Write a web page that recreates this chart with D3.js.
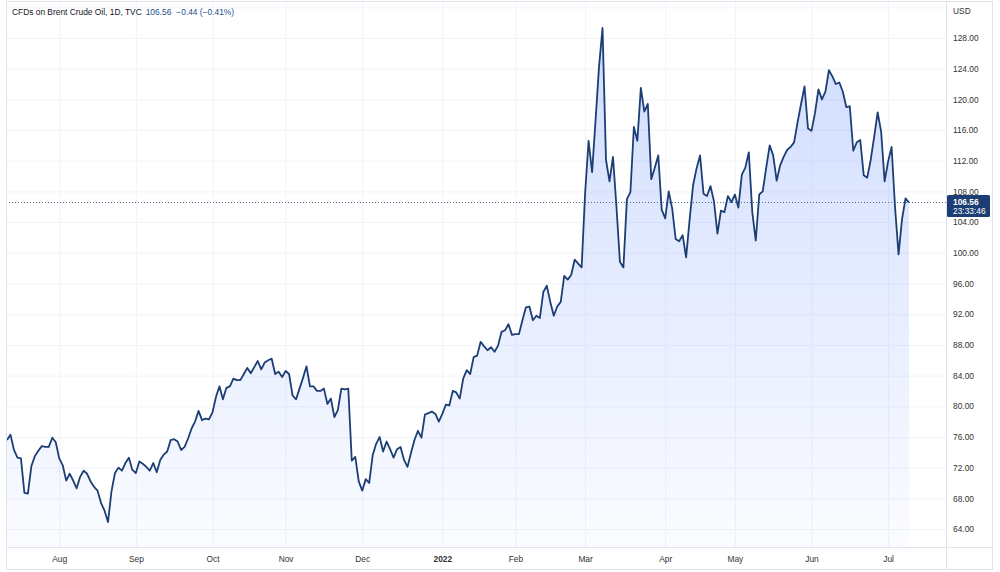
<!DOCTYPE html>
<html>
<head>
<meta charset="utf-8">
<script src="https://cdn.jsdelivr.net/npm/d3@7"></script>
<style>
  body { margin: 0; background: #fff; }
  svg text { font-family: "Liberation Sans", Arial, sans-serif; }
</style>
</head>
<body>
<div id="chart"></div>
<script>
// daily closes, CFDs on Brent Crude Oil (TVC)
var prices = [
  75.6,76.3,74.3,73.3,73.2,68.7,68.6,72.2,73.5,74.2,
  74.8,74.7,74.7,75.9,75.3,73.2,72.3,70.3,71.2,70.3,
  69.3,70.8,71.6,71.2,70.2,69.5,69.0,67.4,66.4,64.9,
  68.9,71.3,72.0,71.6,72.6,73.3,71.7,71.3,72.8,72.5,
  72.1,71.6,72.6,71.4,73.0,73.7,74.1,75.6,75.7,75.4,
  74.3,74.7,75.8,77.1,78.0,79.4,78.2,78.4,78.3,79.2,
  81.2,82.6,80.9,82.4,82.6,83.6,83.4,83.4,84.2,85.0,
  84.3,85.1,85.9,84.8,85.7,86.0,86.2,84.2,84.5,83.8,
  84.6,84.2,81.4,80.9,82.3,83.7,85.2,82.6,82.6,82.0,
  82.0,82.3,80.3,81.0,78.6,79.5,82.3,82.2,82.3,72.9,
  73.4,70.2,69.0,70.5,70.0,73.6,75.1,76.0,74.1,75.4,
  74.4,73.3,74.4,74.7,73.0,72.1,73.9,75.6,76.8,75.9,
  78.9,79.1,79.3,79.0,78.0,79.0,80.2,80.1,82.0,81.8,
  81.0,83.6,84.7,84.2,86.4,86.6,88.4,87.8,87.3,87.7,
  87.1,87.9,89.7,89.9,90.7,89.3,89.4,89.4,91.2,92.9,
  93.0,91.2,91.8,91.5,94.9,95.7,93.6,91.8,93.0,93.6,
  97.0,96.5,97.1,99.1,98.6,98.1,107.8,114.6,110.5,117.3,
  124.3,129.3,112.1,109.3,112.5,106.0,98.8,98.1,107.0,107.9,
  116.4,114.6,121.5,118.4,119.4,109.6,111.1,112.7,105.6,104.5,
  108.0,105.8,101.8,101.5,102.3,99.4,104.3,108.8,111.0,112.7,
  107.7,107.4,108.7,106.7,102.5,105.5,105.3,107.4,106.6,107.6,
  105.9,110.2,111.1,113.1,105.3,101.6,107.6,108.0,111.1,114.0,
  112.7,109.4,111.4,112.5,113.4,113.8,114.4,117.0,119.4,121.7,
  116.2,115.9,118.2,121.3,120.0,121.0,123.8,123.0,122.0,122.2,
  121.0,119.0,119.1,113.3,114.4,114.7,110.1,109.8,112.1,115.1,
  118.3,115.8,109.3,111.9,113.8,105.9,99.8,104.4,107.1,106.56
];
var firstDay = "2021-07-12";
var holidays = ["2022-04-15"];
var priceTicks = d3.range(64, 129, 4);
var gridPrices = d3.range(60, 133, 4);
var title = "CFDs on Brent Crude Oil, 1D, TVC";
var lastPrice = "106.56", change = "\u22120.44 (\u22120.41%)";
var currency = "USD", countdown = "23:33:46";

// one weekday per bar, skipping the holidays
var fmt = d3.timeFormat("%Y-%m-%d");
var dates = [];
var day = d3.timeParse("%Y-%m-%d")(firstDay);
while (dates.length < prices.length) {
  if (day.getDay() != 0 && day.getDay() != 6 && holidays.indexOf(fmt(day)) < 0) dates.push(day);
  day = d3.timeDay.offset(day, 1);
}
var monthStarts = d3.range(1, dates.length).filter(function(i) {
  return dates[i].getMonth() != dates[i - 1].getMonth();
});

var W = 1000, H = 572;
var plot = {left: 6, right: 946, top: 1, bottom: 547};

var svg = d3.select("#chart").append("svg")
  .attr("width", W).attr("height", H);

var x = d3.scaleLinear().domain([0, prices.length - 1]).range([7, 909]);
var y = d3.scaleLinear().domain([64, 128]).range([529, 38]);

var defs = svg.append("defs");
defs.append("clipPath").attr("id", "clip").append("rect")
  .attr("x", plot.left).attr("y", plot.top)
  .attr("width", plot.right - plot.left).attr("height", plot.bottom - plot.top);
var grad = defs.append("linearGradient").attr("id", "fill")
  .attr("gradientUnits", "userSpaceOnUse")
  .attr("x1", 0).attr("x2", 0)
  .attr("y1", y(d3.max(prices))).attr("y2", plot.bottom);
grad.append("stop").attr("offset", 0).attr("stop-color", "#2962ff").attr("stop-opacity", 0.22);
grad.append("stop").attr("offset", 1).attr("stop-color", "#2962ff").attr("stop-opacity", 0.02);

var g = svg.append("g").attr("clip-path", "url(#clip)");

// grid
g.append("g").attr("transform", "translate(" + plot.left + ",0)")
  .call(d3.axisRight(y).tickValues(gridPrices).tickSize(plot.right - plot.left).tickFormat(""))
  .call(function(s) { s.select(".domain").remove(); s.selectAll("line").attr("stroke", "#f0f3fa"); });
g.append("g").attr("transform", "translate(0," + plot.top + ")")
  .call(d3.axisBottom(x).tickValues(monthStarts).tickSize(plot.bottom - plot.top).tickFormat(""))
  .call(function(s) { s.select(".domain").remove(); s.selectAll("line").attr("stroke", "#f0f3fa"); });

// area + line
g.append("path").datum(prices)
  .attr("fill", "url(#fill)")
  .attr("d", d3.area().x(function(d, i) { return x(i); }).y0(plot.bottom).y1(function(d) { return y(d); }));
g.append("path").datum(prices)
  .attr("fill", "none")
  .attr("stroke", "#1c3e74")
  .attr("stroke-width", 1.8)
  .attr("stroke-linejoin", "round")
  .attr("d", d3.line().x(function(d, i) { return x(i); }).y(function(d) { return y(d); }));

// last price dotted line
g.append("line")
  .attr("x1", plot.left).attr("x2", plot.right)
  .attr("y1", y(+lastPrice)).attr("y2", y(+lastPrice))
  .attr("stroke", "#1c3e74").attr("stroke-opacity", 0.75).attr("stroke-width", 1)
  .attr("stroke-dasharray", "1,2");

// frame
svg.append("rect").attr("x", plot.left + 0.5).attr("y", 1.5)
  .attr("width", 992 - plot.left).attr("height", 568)
  .attr("fill", "none").attr("stroke", "#e0e3eb");
svg.append("line").attr("x1", plot.right + 0.5).attr("x2", plot.right + 0.5)
  .attr("y1", 1.5).attr("y2", 569.5).attr("stroke", "#e0e3eb");
svg.append("line").attr("x1", plot.left).attr("x2", 992.5)
  .attr("y1", plot.bottom + 0.5).attr("y2", plot.bottom + 0.5).attr("stroke", "#e0e3eb");

// price axis
svg.append("g").attr("transform", "translate(" + plot.right + ",0)")
  .call(d3.axisRight(y).tickValues(priceTicks).tickSize(0).tickPadding(7).tickFormat(d3.format(".2f")))
  .call(function(s) {
    s.select(".domain").remove();
    s.selectAll("text").attr("fill", "#333").attr("font-size", "8.4px")
      .style("font-family", "Liberation Sans, Arial, sans-serif");
  });
svg.append("text").attr("x", 953).attr("y", 14)
  .attr("font-size", "8.4px").attr("fill", "#333").text(currency);

// time axis
svg.append("g").attr("transform", "translate(0," + (plot.bottom + 6) + ")")
  .call(d3.axisBottom(x).tickValues(monthStarts).tickSize(0).tickPadding(3)
    .tickFormat(function(i) {
      return dates[i].getMonth() == 0 ? d3.timeFormat("%Y")(dates[i]) : d3.timeFormat("%b")(dates[i]);
    }))
  .call(function(s) {
    s.select(".domain").remove();
    s.selectAll("text").attr("fill", "#333").attr("font-size", "8.4px")
      .style("font-family", "Liberation Sans, Arial, sans-serif")
      .attr("font-weight", function(i) { return dates[i].getMonth() == 0 ? "bold" : null; });
  });

// price tag
var tagY = y(+lastPrice);
svg.append("rect").attr("x", plot.right + 1).attr("y", tagY - 7.5)
  .attr("width", 43).attr("height", 22).attr("rx", 1.5)
  .attr("fill", "#1c3e74");
svg.append("text").attr("x", 953).attr("y", tagY + 3)
  .attr("font-size", "8.4px").attr("font-weight", "bold").attr("fill", "#fff").text(lastPrice);
svg.append("text").attr("x", 953).attr("y", tagY + 12)
  .attr("font-size", "8.4px").attr("fill", "#fff").text(countdown);

// legend
var legend = svg.append("text").attr("x", 12).attr("y", 15).attr("font-size", "8.4px");
legend.append("tspan").attr("fill", "#131722").text(title);
legend.append("tspan").attr("dx", 4).attr("fill", "#1f4e8c").text(lastPrice);
legend.append("tspan").attr("dx", 5).attr("fill", "#1f4e8c").text(change);
</script>
</body>
</html>
